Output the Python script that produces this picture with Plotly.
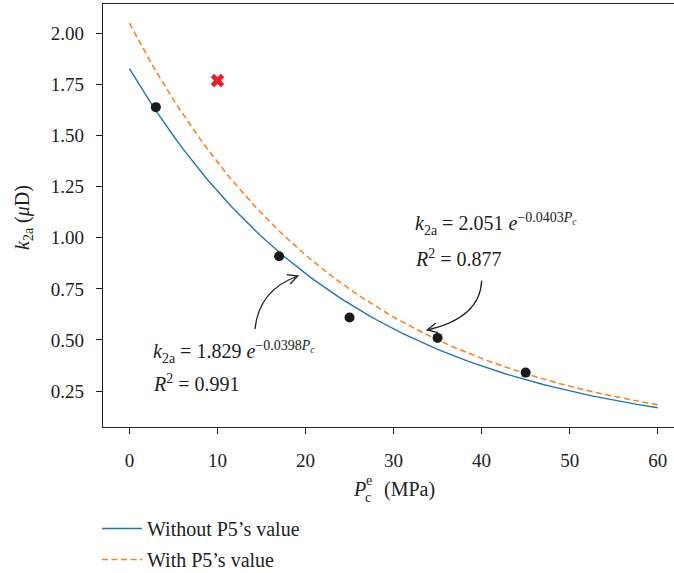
import numpy as np
import plotly.graph_objects as go

# ---- data ----
pc_points = [3, 17, 25, 35, 45]
k2a_points = [1.64, 0.91, 0.61, 0.51, 0.34]
p5_pc = [10]
p5_k2a = [1.77]

fit_without_a, fit_without_b = 1.829, 0.0398   # R^2 = 0.991
fit_with_a, fit_with_b = 2.051, 0.0403          # R^2 = 0.877
pc_fit = np.linspace(0, 60, 121)

x_ticks = [0, 10, 20, 30, 40, 50, 60]
y_ticks = [0.25, 0.50, 0.75, 1.00, 1.25, 1.50, 1.75, 2.00]
y_ticktext = [f"{v:.2f}" for v in y_ticks]

legend_names = ["Without P5\u2019s value", "With P5\u2019s value"]

FONT = "Liberation Serif"
FS = 19
W, H = 674, 573
ML, MR, MT, MB = 103, 0, 4, 146
XR = [-3, 61.85]
YR = [0.0737, 2.145]

fig = go.Figure()
fig.add_trace(go.Scatter(x=pc_fit, y=fit_without_a * np.exp(-fit_without_b * pc_fit),
                         mode="lines", line=dict(color="#1f77b4", width=1.4),
                         name=legend_names[0], legendgroup="a"))
fig.add_trace(go.Scatter(x=pc_fit, y=fit_with_a * np.exp(-fit_with_b * pc_fit),
                         mode="lines", line=dict(color="#ff7f0e", width=1.5, dash="6px,3.5px"),
                         name=legend_names[1], legendgroup="b"))
fig.add_trace(go.Scatter(x=pc_points, y=k2a_points, mode="markers",
                         marker=dict(color="#1a1a1a", size=10), showlegend=False))
fig.add_trace(go.Scatter(x=p5_pc, y=p5_k2a, mode="markers",
                         marker=dict(color="#ee1c24", size=12, symbol="x"), showlegend=False))

# pixel <-> data helpers for annotation geometry
pw = W - ML - MR
ph = H - MT - MB
def dx(px):
    return XR[0] + (px - ML) / pw * (XR[1] - XR[0])
def dy(py):
    return YR[0] + (MT + ph - py) / ph * (YR[1] - YR[0])
def papx(px):
    return (px - ML) / pw
def papy(py):
    return (MT + ph - py) / ph

def curved_arrow(p0, c, p1, head=11, ang=27):
    shapes = []
    path = f"M {dx(p0[0])},{dy(p0[1])} Q {dx(c[0])},{dy(c[1])} {dx(p1[0])},{dy(p1[1])}"
    shapes.append(dict(type="path", path=path, xref="x", yref="y",
                       line=dict(color="#222222", width=1.3)))
    tx, ty = p1[0] - c[0], p1[1] - c[1]
    n = (tx ** 2 + ty ** 2) ** 0.5
    bx, by = -tx / n, -ty / n
    pts = []
    for s in (1, -1):
        a = np.deg2rad(ang * s)
        rx = bx * np.cos(a) - by * np.sin(a)
        ry = bx * np.sin(a) + by * np.cos(a)
        pts.append((p1[0] + head * rx, p1[1] + head * ry))
    hp = (f"M {dx(pts[0][0])},{dy(pts[0][1])} L {dx(p1[0])},{dy(p1[1])} "
          f"L {dx(pts[1][0])},{dy(pts[1][1])}")
    shapes.append(dict(type="path", path=hp, xref="x", yref="y",
                       line=dict(color="#222222", width=1.3)))
    return shapes

shapes = []
shapes += curved_arrow((255, 329), (259, 290), (297.7, 276))
shapes += curved_arrow((481.7, 280.7), (480, 318), (427.3, 330))
fig.update_layout(shapes=shapes)

def eq_text(a, b):
    return (f"<i>k</i><sub>2a</sub> = {a:.3f} <i>e</i><sup>\u2212{b:.4f}<i>P<sub>c</sub></i></sup>")

EQ_FS = 20
ann = []
ann.append(dict(x=dx(413), y=dy(224), xref="x", yref="y", text=eq_text(fit_with_a, fit_with_b),
                showarrow=False, xanchor="left", yanchor="middle", font=dict(size=EQ_FS)))
ann.append(dict(x=dx(413), y=dy(258), xref="x", yref="y", text="<i>R</i><sup>2</sup> = 0.877",
                showarrow=False, xanchor="left", yanchor="middle", font=dict(size=EQ_FS)))
ann.append(dict(x=dx(151), y=dy(352), xref="x", yref="y", text=eq_text(fit_without_a, fit_without_b),
                showarrow=False, xanchor="left", yanchor="middle", font=dict(size=EQ_FS)))
ann.append(dict(x=dx(151), y=dy(383), xref="x", yref="y", text="<i>R</i><sup>2</sup> = 0.991",
                showarrow=False, xanchor="left", yanchor="middle", font=dict(size=EQ_FS)))
# axis titles
ann.append(dict(x=papx(23), y=papy(218), xref="paper", yref="paper",
                text="<i>k</i><sub>2a</sub> (<i>\u03bc</i>D)", textangle=-90,
                showarrow=False, xanchor="center", yanchor="middle", font=dict(size=20)))
ann.append(dict(x=papx(368), y=papy(489), xref="paper", yref="paper",
                text="<i>P</i>", showarrow=False, xanchor="right", yanchor="middle",
                font=dict(size=20)))
ann.append(dict(x=papx(364), y=papy(480), xref="paper", yref="paper",
                text="e", font=dict(size=14),
                showarrow=False, xanchor="left", yanchor="middle"))
ann.append(dict(x=papx(363), y=papy(497), xref="paper", yref="paper",
                text="c", font=dict(size=14),
                showarrow=False, xanchor="left", yanchor="middle"))
ann.append(dict(x=papx(382), y=papy(489), xref="paper", yref="paper",
                text="(MPa)", showarrow=False, xanchor="left", yanchor="middle",
                font=dict(size=20)))
fig.update_layout(annotations=ann)

axis_common = dict(showline=True, linecolor="#222222", linewidth=1.2, ticks="outside",
                   ticklen=6, tickwidth=1.1, tickcolor="#222222", showgrid=False, zeroline=False,
                   automargin=False,
                   tickfont=dict(family=FONT, size=FS, color="#222222"))
fig.update_xaxes(range=XR, tickvals=x_ticks, mirror=True, ticklabelstandoff=10, **axis_common)
fig.update_yaxes(range=YR, tickvals=y_ticks, ticktext=y_ticktext, ticklabelstandoff=8, **axis_common)

fig.update_layout(
    width=W, height=H, margin=dict(l=ML, r=MR, t=MT, b=MB, autoexpand=False),
    plot_bgcolor="white", paper_bgcolor="white",
    font=dict(family=FONT, size=FS, color="#222222"),
    legend=dict(x=papx(97), y=papy(509), xanchor="left", yanchor="top", orientation="v",
                itemwidth=40, tracegroupgap=2, traceorder="grouped",
                font=dict(family=FONT, size=20, color="#222222"),
                bgcolor="rgba(0,0,0,0)"),
)
fig.write_html("out.html")
